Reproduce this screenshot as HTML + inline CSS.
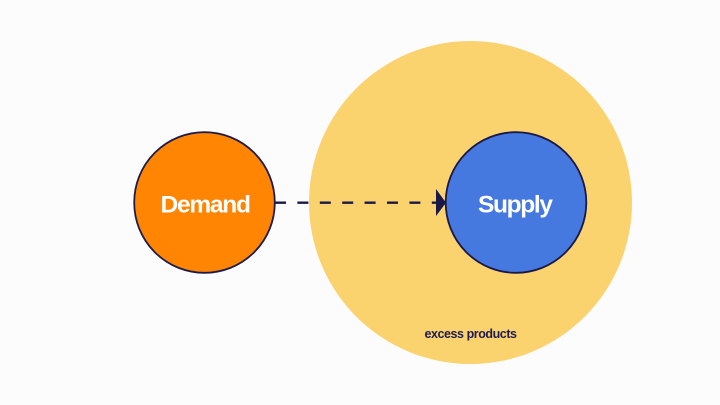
<!DOCTYPE html>
<html>
<head>
<meta charset="utf-8">
<style>
html,body{margin:0;padding:0;width:720px;height:405px;overflow:hidden;background:#fcfcfd}
svg{display:block}
text{font-family:"Liberation Sans",sans-serif}
</style>
</head>
<body>
<svg width="720" height="405" viewBox="0 0 720 405" xmlns="http://www.w3.org/2000/svg">
<rect width="720" height="405" fill="#fcfcfd"/>
<circle cx="470.5" cy="202.5" r="161.5" fill="#fad26e"/>
<circle cx="204.5" cy="202.5" r="70.3" fill="#ff8503" stroke="#1f1c4c" stroke-width="1.8"/>
<line x1="275" y1="202.7" x2="436" y2="202.7" stroke="#1a1848" stroke-width="2.4" stroke-dasharray="11 11.4"/>
<polygon points="436,189 446,202.7 436,216" fill="#1a1848"/>
<circle cx="516" cy="202.5" r="70.3" fill="#4679e0" stroke="#1a1848" stroke-width="1.8"/>
<text x="160.5" y="212.7" font-size="24.5" font-weight="bold" fill="#fff" textLength="90.5" lengthAdjust="spacing">Demand</text>
<text x="478" y="212.7" font-size="24.5" font-weight="bold" fill="#fff" textLength="75" lengthAdjust="spacing">Supply</text>
<text x="424.5" y="338.2" font-size="12.5" font-weight="bold" fill="#1f1c50" textLength="92.5" lengthAdjust="spacing">excess products</text>
</svg>
</body>
</html>
